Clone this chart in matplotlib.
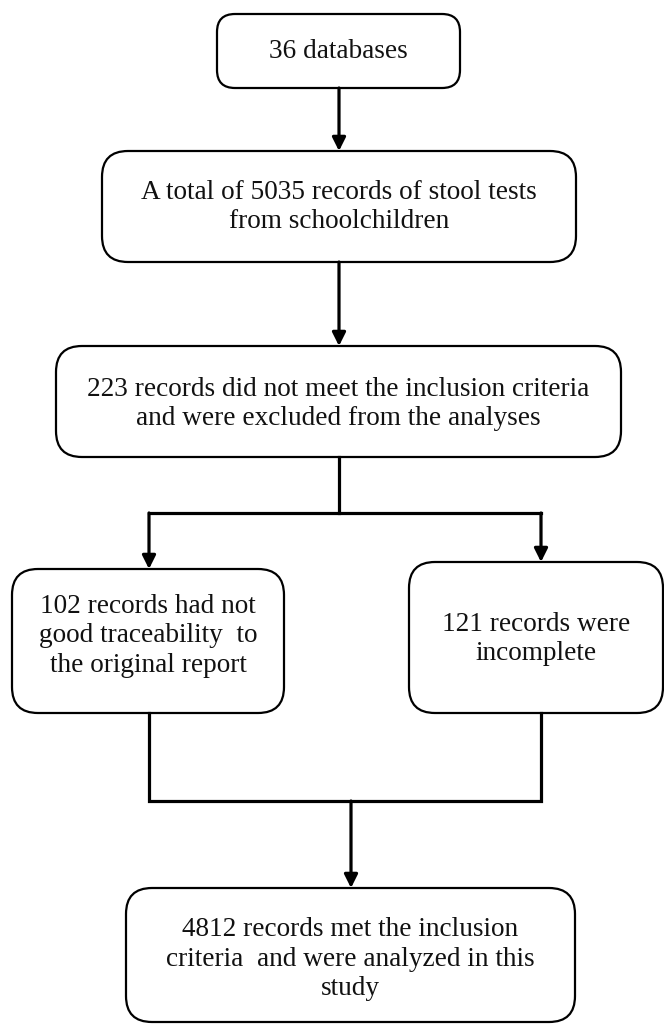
import matplotlib.pyplot as plt
from matplotlib.patches import FancyBboxPatch

plt.rcParams['font.family'] = ['Liberation Serif', 'DejaVu Serif']

# textos de las cajas
texto_inicio = "36 databases"
texto_total = "A total of 5035 records of stool tests\nfrom schoolchildren"
texto_excl = "223 records did not meet the inclusion criteria\nand were excluded from the analyses"
texto_izq = "102 records had not\ngood traceability  to\nthe original report"
texto_der = "121 records were\nincomplete"
texto_final = "4812 records met the inclusion\ncriteria  and were analyzed in this\nstudy"

# cajas en pixeles: x0, y0, x1, y1, radio, centro del texto
cajas = [
    (217, 14, 460, 88, 18, 51, texto_inicio),
    (102, 151, 576, 262, 26, 207, texto_total),
    (56, 346, 621, 457, 26, 404, texto_excl),
    (12, 569, 284, 713, 26, 636, texto_izq),
    (409, 562, 663, 713, 26, 639, texto_der),
    (126, 888, 575, 1022, 26, 959, texto_final),
]

fig = plt.figure(figsize=(6.64, 10.24), dpi=100)
ax = fig.add_axes([0, 0, 1, 1])
ax.set_xlim(0, 664)
ax.set_ylim(1024, 0)
ax.axis('off')

for x0, y0, x1, y1, r, yt, t in cajas:
    caja = FancyBboxPatch((x0, y0), x1 - x0, y1 - y0,
                          boxstyle="round,pad=0,rounding_size=%d" % r,
                          fc='white', ec='black', lw=1.6)
    ax.add_patch(caja)
    ax.text((x0 + x1) / 2, yt, t, ha='center', va='center',
            fontsize=19.6, linespacing=1.22, color='#111111')

lw_con = 2.3

def flecha(x, ya, yb):
    ax.annotate('', xy=(x, yb), xytext=(x, ya),
                arrowprops=dict(arrowstyle='-|>', lw=lw_con, color='black',
                                mutation_scale=20, shrinkA=0, shrinkB=0))

def linea(xs, ys):
    ax.plot(xs, ys, color='black', lw=lw_con, solid_capstyle='projecting',
            solid_joinstyle='miter')

flecha(339, 88, 151)
flecha(339, 262, 346)

# division
linea([339, 339], [457, 513])
linea([149, 541], [513, 513])
flecha(149, 513, 569)
flecha(541, 513, 562)

# union
linea([149, 149, 541, 541], [713, 801, 801, 713])
flecha(351, 801, 888)

fig.savefig("out.png", dpi=100)
